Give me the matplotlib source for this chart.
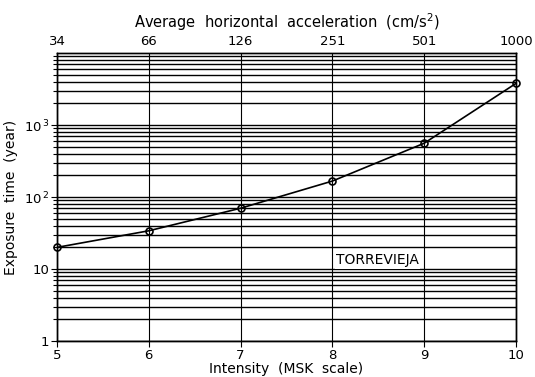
import matplotlib
matplotlib.use("Agg")
import matplotlib.pyplot as plt
import matplotlib.ticker as ticker

# ── data ─────────────────────────────────────────────────────────────────────
intensity = [5, 6, 7, 8, 9, 10]
exposure = [20, 34, 70, 167, 560, 3800]          # years
accel_labels = ["34", "66", "126", "251", "501", "1000"]   # cm/s^2 at each intensity
ytick_vals = [1, 10, 100, 1000]
ytick_labels = ["1", "10", r"10$^{\,2}$", r"10$^{\,3}$"]

plt.rcParams["font.family"] = ["DejaVu Sans"]

fig = plt.figure(figsize=(5.35, 3.77), dpi=100)
ax = fig.add_axes([0.1065, 0.0955, 0.858, 0.7635])

ax.set_yscale("log")
ax.set_xlim(5, 10)
ax.set_ylim(1, 1e4)

# horizontal grid at every decade subdivision, vertical grid at each intensity
ax.yaxis.set_minor_locator(ticker.LogLocator(base=10, subs=range(2, 10)))
ax.yaxis.set_minor_formatter(ticker.NullFormatter())
ax.grid(True, which="both", axis="y", color="black", linewidth=1.0)
ax.grid(True, which="major", axis="x", color="black", linewidth=0.8)

ax.plot(intensity, exposure, color="black", linewidth=1.2, zorder=3)
ax.plot(intensity, exposure, "o", markersize=5, markerfacecolor="none",
        markeredgecolor="black", markeredgewidth=1.2, zorder=4, clip_on=False)

ax.set_xticks(intensity)
ax.set_xticklabels([str(i) for i in intensity], fontsize=9.5)
ax.set_yticks(ytick_vals)
ax.set_yticklabels(ytick_labels, fontsize=9.5)
ax.tick_params(axis="both", which="major", direction="out", length=4, width=0.8, pad=1.5)
ax.tick_params(axis="y", which="minor", direction="out", length=3, width=0.8)

ax.set_xlabel("Intensity  (MSK  scale)", fontsize=10, labelpad=0)
ax.set_ylabel("Exposure  time  (year)", fontsize=10, labelpad=4)

# top axis: average horizontal acceleration
top = ax.twiny()
top.set_xlim(ax.get_xlim())
top.set_xticks(intensity)
top.set_xticklabels(accel_labels, fontsize=9.5)
top.tick_params(axis="x", direction="out", length=0, pad=4)
top.set_xlabel(r"Average  horizontal  acceleration  (cm/s$^2$)", fontsize=10.5, labelpad=5)

for a in (ax, top):
    for s in a.spines.values():
        s.set_linewidth(1.0)
        s.set_color("black")

ax.text(8.04, 13.3, "TORREVIEJA", fontsize=10, va="center", ha="left", zorder=5,
        bbox=dict(facecolor="white", edgecolor="none", pad=1.0))

fig.savefig("out.png", dpi=100)
